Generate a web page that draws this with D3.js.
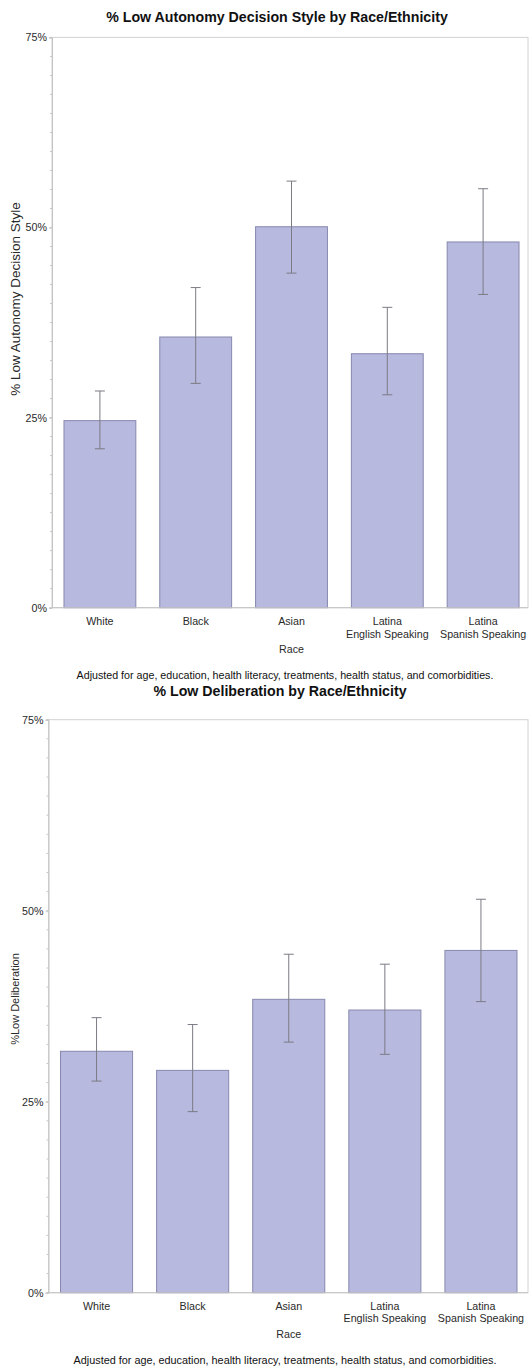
<!DOCTYPE html>
<html>
<head>
<meta charset="utf-8">
<script src="https://cdn.jsdelivr.net/npm/d3@7"></script>
<style>
  html, body { margin: 0; padding: 0; background: #fff; }
  svg { display: block; }
  text { font-family: "Liberation Sans", Arial, Helvetica, sans-serif; }
</style>
</head>
<body>
<svg id="chart" width="530" height="1369"></svg>
<script>
// Categories and estimates (percent), with 95% confidence limits
const categories = ["White", "Black", "Asian", "Latina\nEnglish Speaking", "Latina\nSpanish Speaking"];

const autonomyPct  = [24.6, 35.6, 50.1, 33.4, 48.1];
const autonomyLow  = [20.9, 29.5, 44.0, 28.0, 41.2];
const autonomyHigh = [28.5, 42.1, 56.1, 39.5, 55.1];

const deliberationPct  = [31.6, 29.1, 38.4, 37.0, 44.8];
const deliberationLow  = [27.7, 23.7, 32.8, 31.2, 38.1];
const deliberationHigh = [36.0, 35.1, 44.3, 43.0, 51.5];

const yTickValues = [0, 25, 50, 75];
const yMinorStep = 2.5;

const footnote = "Adjusted for age, education, health literacy, treatments, health status, and comorbidities.";

const svg = d3.select("#chart");

const BAR_FILL = "#b8b9df";
const BAR_STROKE = "#8788ad";
const ERR_STROKE = "#7b7b85";
const FRAME = "#d2d2d2";
const TEXT = "#2a2a2a";
const LABEL_SIZE = 10.7;

function drawPanel(opts) {
  const g = svg.append("g");
  const y = d3.scaleLinear().domain([0, 75]).range([opts.y0, opts.y75]);
  const x = d3.scaleBand().domain(categories).range([opts.xLeft, opts.xRight]).paddingInner(0.25).paddingOuter(0.125);

  // title
  g.append("text")
    .attr("x", opts.titleX).attr("y", opts.titleY)
    .attr("text-anchor", "middle")
    .attr("font-size", 14.2).attr("font-weight", "bold").attr("fill", "#111")
    .text(opts.title);

  // frame (top, right, bottom)
  g.append("rect")
    .attr("x", opts.xLeft).attr("y", y(75))
    .attr("width", opts.frameRight - opts.xLeft).attr("height", y(0) - y(75))
    .attr("fill", "none").attr("stroke", FRAME).attr("stroke-width", 1);

  // minor ticks
  const minor = d3.range(0, 75 + 0.001, yMinorStep);
  g.selectAll(".minor").data(minor).join("line")
    .attr("x1", opts.xLeft - 2).attr("x2", opts.xLeft)
    .attr("y1", d => y(d)).attr("y2", d => y(d))
    .attr("stroke", "#c8c8c8");

  // y axis
  const yAxis = d3.axisLeft(y).tickValues(yTickValues).tickSize(3).tickFormat(d => d + "%");
  const ya = g.append("g").attr("transform", `translate(${opts.xLeft},0)`).call(yAxis);
  ya.select(".domain").attr("stroke", "#c4c4c4");
  ya.selectAll(".tick line").attr("stroke", "#c4c4c4");
  ya.selectAll(".tick text")
    .attr("font-size", LABEL_SIZE).attr("fill", TEXT)
    .attr("font-family", "Liberation Sans, Arial, sans-serif")
    .attr("x", -(opts.tickGap));

  // y axis title
  g.append("text")
    .attr("transform", `translate(${opts.yTitleX},${opts.yTitleY}) rotate(-90)`)
    .attr("text-anchor", "middle")
    .attr("font-size", opts.yTitleSize).attr("fill", TEXT)
    .text(opts.yTitle);

  // bars
  g.selectAll(".bar").data(categories).join("rect")
    .attr("x", d => x(d)).attr("width", x.bandwidth())
    .attr("y", (d, i) => y(opts.values[i]))
    .attr("height", (d, i) => y(0) - y(opts.values[i]))
    .attr("fill", BAR_FILL).attr("stroke", BAR_STROKE).attr("stroke-width", 1);

  // error bars
  const cx = d => x(d) + x.bandwidth() / 2;
  const eb = g.selectAll(".err").data(categories).join("g");
  eb.append("line")
    .attr("x1", cx).attr("x2", cx)
    .attr("y1", (d, i) => y(opts.low[i])).attr("y2", (d, i) => y(opts.high[i]))
    .attr("stroke", ERR_STROKE);
  eb.append("line")
    .attr("x1", d => cx(d) - 5).attr("x2", d => cx(d) + 5)
    .attr("y1", (d, i) => y(opts.high[i])).attr("y2", (d, i) => y(opts.high[i]))
    .attr("stroke", ERR_STROKE);
  eb.append("line")
    .attr("x1", d => cx(d) - 5).attr("x2", d => cx(d) + 5)
    .attr("y1", (d, i) => y(opts.low[i])).attr("y2", (d, i) => y(opts.low[i]))
    .attr("stroke", ERR_STROKE);

  // x baseline
  g.append("line")
    .attr("x1", opts.xLeft).attr("x2", opts.frameRight)
    .attr("y1", y(0)).attr("y2", y(0))
    .attr("stroke", "#c4c4c4");

  // category labels (two lines where needed)
  const labels = g.selectAll(".xl").data(categories).join("text")
    .attr("text-anchor", "middle")
    .attr("font-size", LABEL_SIZE).attr("fill", TEXT)
    .attr("x", cx)
    .attr("y", y(0) + opts.labelDy);
  labels.selectAll("tspan").data(d => d.split("\n")).join("tspan")
    .attr("x", function () { return d3.select(this.parentNode).attr("x"); })
    .attr("dy", (d, i) => i === 0 ? 0 : 12.5)
    .text(d => d);

  // x axis title
  g.append("text")
    .attr("x", (opts.xLeft + opts.xRight) / 2).attr("y", y(0) + opts.raceDy)
    .attr("text-anchor", "middle")
    .attr("font-size", LABEL_SIZE).attr("fill", TEXT)
    .text("Race");

  // footnote
  g.append("text")
    .attr("x", 285).attr("y", opts.footY)
    .attr("text-anchor", "middle")
    .attr("font-size", opts.footSize).attr("fill", "#111")
    .text(footnote);
}

drawPanel({
  title: "% Low Autonomy Decision Style by Race/Ethnicity",
  titleX: 277, titleY: 22,
  y0: 607.7, y75: 37.4,
  xLeft: 52, xRight: 531, frameRight: 528,
  tickGap: 5,
  yTitle: "% Low Autonomy Decision Style", yTitleX: 19.5, yTitleY: 299, yTitleSize: 13.5,
  values: autonomyPct, low: autonomyLow, high: autonomyHigh,
  labelDy: 17.5, raceDy: 45.5,
  footY: 679, footSize: 10.7
});

drawPanel({
  title: "% Low Deliberation by Race/Ethnicity",
  titleX: 280, titleY: 695.5,
  y0: 1292.7, y75: 719.7,
  xLeft: 48.5, xRight: 529, frameRight: 528,
  tickGap: 5,
  yTitle: "%Low Deliberation", yTitleX: 18.5, yTitleY: 999, yTitleSize: 11,
  values: deliberationPct, low: deliberationLow, high: deliberationHigh,
  labelDy: 17, raceDy: 45.5,
  footY: 1364, footSize: 10.85
});
</script>
</body>
</html>
